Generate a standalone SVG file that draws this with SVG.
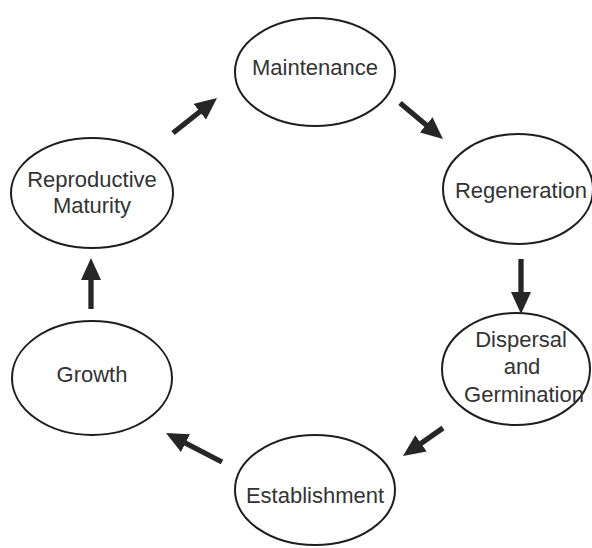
<svg xmlns="http://www.w3.org/2000/svg" width="592" height="548" viewBox="0 0 592 548">
  <style>
    .node ellipse { fill: #ffffff; stroke: #1e1e1e; stroke-width: 2; }
    .node text { font-family: "Liberation Sans", Arial, Helvetica, sans-serif; font-size: 22px; fill: #333333; text-anchor: middle; }
    .arrow { stroke: #262626; stroke-width: 5.3; fill: none; marker-end: url(#head); }
  </style>
  <defs>
    <marker id="head" markerUnits="userSpaceOnUse" markerWidth="22" markerHeight="20" refX="6" refY="10" orient="auto">
      <path d="M0,0 L22,10 L0,20 z" fill="#262626"/>
    </marker>
  </defs>
  <rect width="592" height="548" fill="#ffffff"/>

  <g id="maintenance" class="node">
    <ellipse cx="315" cy="72" rx="80" ry="54"/>
    <text x="315" y="75">Maintenance</text>
  </g>
  <g id="regeneration" class="node">
    <ellipse cx="518" cy="189" rx="75" ry="55"/>
    <text x="521" y="198">Regeneration</text>
  </g>
  <g id="dispersal" class="node">
    <ellipse cx="516" cy="369" rx="74" ry="56"/>
    <text x="521" y="347">Dispersal</text>
    <text x="522" y="374">and</text>
    <text x="524" y="402">Germination</text>
  </g>
  <g id="establishment" class="node">
    <ellipse cx="315" cy="490" rx="80" ry="55"/>
    <text x="315" y="503">Establishment</text>
  </g>
  <g id="growth" class="node">
    <ellipse cx="92" cy="378" rx="80" ry="57"/>
    <text x="92" y="382">Growth</text>
  </g>
  <g id="reproductive-maturity" class="node">
    <ellipse cx="92" cy="193" rx="81" ry="55"/>
    <text x="92" y="187">Reproductive</text>
    <text x="92" y="213">Maturity</text>
  </g>

  <g id="connectors">
    <line class="arrow" x1="173" y1="133" x2="204.5" y2="108"/>
    <line class="arrow" x1="400" y1="103" x2="430.7" y2="128.7"/>
    <line class="arrow" x1="521" y1="259" x2="521" y2="298"/>
    <line class="arrow" x1="443" y1="428" x2="416.1" y2="446.8"/>
    <line class="arrow" x1="222" y1="462" x2="180.2" y2="440.4"/>
    <line class="arrow" x1="91" y1="309" x2="91" y2="274"/>
  </g>
</svg>
